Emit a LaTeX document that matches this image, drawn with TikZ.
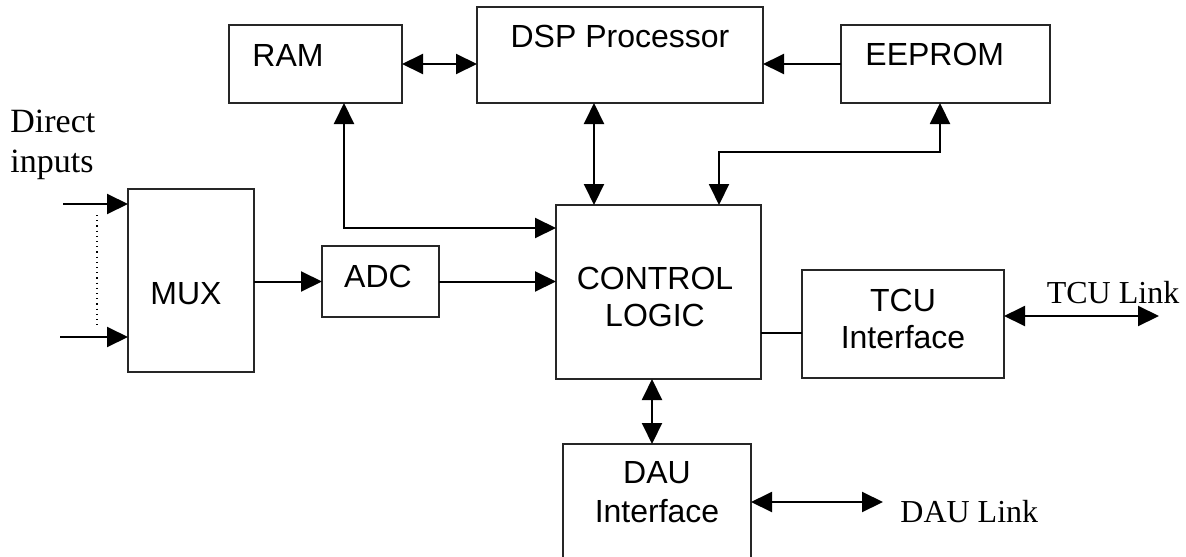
\documentclass[tikz,border=0pt]{standalone}
\usepackage{fontspec}
\setmainfont{Liberation Serif}
\setsansfont{Liberation Sans}
\usetikzlibrary{arrows.meta,calc,fit}
\tikzset{
  blk/.style={draw=black!85, line width=0.6pt, inner sep=0pt, outer sep=0pt},
  lbl/.style={font=\sffamily\fontsize{16}{19}\selectfont, inner sep=0pt},
  note/.style={font=\rmfamily\fontsize{16}{19}\selectfont, inner sep=0pt},
  wire/.style={line width=1pt},
  uni/.style={wire, -{Triangle[length=10.5pt,width=10pt]}},
  bi/.style={wire, {Triangle[length=10.5pt,width=10pt]}-{Triangle[length=10.5pt,width=10pt]}},
}
\begin{document}
\begin{tikzpicture}[x=0.5pt,y=-0.5pt]
\clip (0,0) rectangle (1186,556);
\fill[white] (0,0) rectangle (1186,556);

% blocks
\node[blk, fit={(229,25) (402,103)}] (ram) {};
\node[blk, fit={(477,7) (763,103)}] (dsp) {};
\node[blk, fit={(841,25) (1050,103)}] (eeprom) {};
\node[blk, fit={(128,189) (254,372)}] (mux) {};
\node[blk, fit={(322,246) (439,317)}] (adc) {};
\node[blk, fit={(556,205) (761,379)}] (ctl) {};
\node[blk, fit={(802,270) (1004,378)}] (tcu) {};
\node[blk, fit={(563,444) (751,600)}] (dau) {};

% block texts
\node[lbl, anchor=base west] (ramtxt) at (252,67) {RAM};
\node[lbl, anchor=base] (dsptxt) at (620,48) {DSP Processor};
\node[lbl, anchor=base west] (eeptxt) at (865,66) {EEPROM};
\node[lbl, anchor=base] (muxtxt) at (186,304) {MUX};
\node[lbl, anchor=base] (adctxt) at (378,287) {ADC};
\node[lbl, anchor=base] (ctltxt1) at (655,289) {CONTROL};
\node[lbl, anchor=base] (ctltxt2) at (655,326) {LOGIC};
\node[lbl, anchor=base] (tcutxt1) at (903,311) {TCU};
\node[lbl, anchor=base] (tcutxt2) at (903,348) {Interface};
\node[lbl, anchor=base] (dautxt1) at (657,483) {DAU};
\node[lbl, anchor=base] (dautxt2) at (657,522) {Interface};

% free texts
\node[note, font=\rmfamily\fontsize{17}{20}\selectfont, anchor=base west] (direct) at (10,132) {Direct};
\node[note, font=\rmfamily\fontsize{17}{20}\selectfont, anchor=base west] (inputs) at (10,172) {inputs};
\node[note, anchor=base] (tculbl) at (1113,303) {TCU Link};
\node[note, anchor=base west] (daulbl) at (900,522) {DAU Link};

% loose ends
\coordinate (in1) at (63,204);
\coordinate (in2) at (60,337);
\coordinate (dot1) at (97,215);
\coordinate (dot2) at (97,325);
\coordinate (tcuend) at (1159,316);
\coordinate (dauend) at (883,502);

% inputs to the multiplexer
\draw[uni] (in1) -- (in1 -| mux.west);
\draw[uni] (in2) -- (in2 -| mux.west);
\draw[line width=0.6pt, dotted] (dot1) -- (dot2);

% signal path
\draw[uni] (mux.east |- adc.west) -- (adc.west);
\draw[uni] (adc.east) -- (adc.east -| ctl.west);

% memory and processor buses
\draw[bi] (ram.east) -- (ram.east -| dsp.west);
\draw[uni] (eeprom.west) -- (eeprom.west -| dsp.east);
\draw[bi] ($(ram.south west)+(115,0)$) |- ($(ctl.north west)+(0,23)$);
\draw[bi] ($(dsp.south west)+(117,0)$) coordinate (dspbus) -- (dspbus |- ctl.north);
\draw[bi] ($(eeprom.south west)+(99,0)$) |- ($(ctl.north west)+(163,-53)$) -- ($(ctl.north west)+(163,0)$);

% interfaces
\draw[line width=0.6pt] ($(tcu.south west)+(0,-45)$) coordinate (tcutap) -- (tcutap -| ctl.east);
\draw[bi] ($(tcu.north east)+(0,46)$) -- (tcuend);
\draw[bi] ($(dau.north west)+(89,0)$) coordinate (daubus) -- (daubus |- ctl.south);
\draw[bi] ($(dau.north east)+(0,58)$) -- (dauend);
\end{tikzpicture}
\end{document}
